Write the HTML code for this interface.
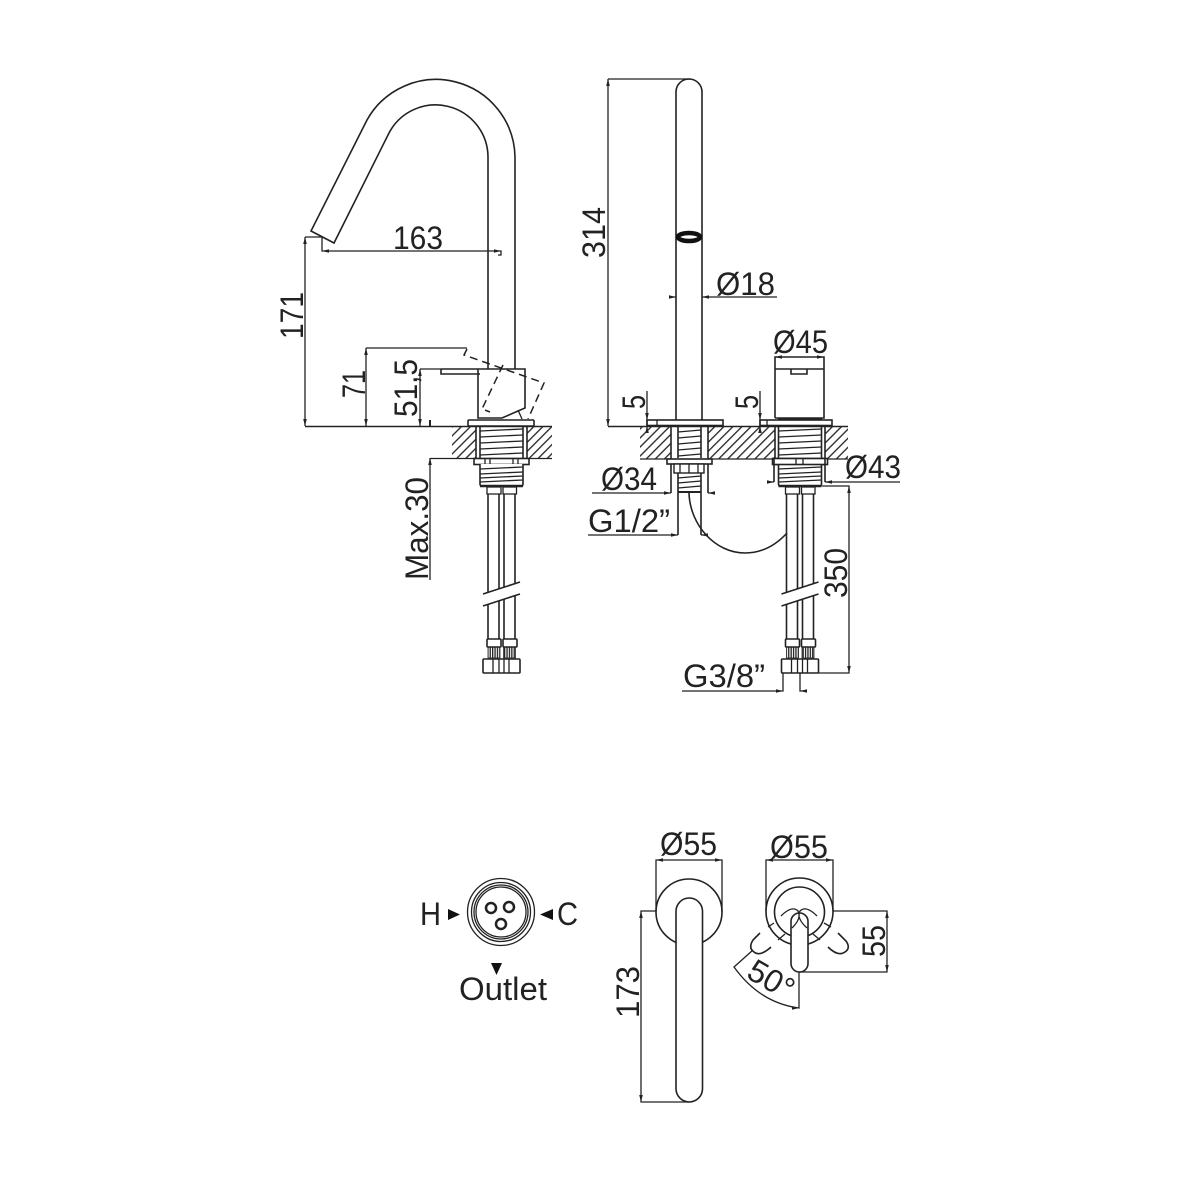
<!DOCTYPE html>
<html><head><meta charset="utf-8"><style>
html,body{margin:0;padding:0;background:#fff;width:1181px;height:1181px;overflow:hidden}
svg{display:block}
text{font-family:"Liberation Sans",sans-serif;font-size:32px;fill:#222}
.l{fill:none;stroke:#222;stroke-width:1.6}
.t{fill:none;stroke:#222;stroke-width:1.3}
.d{fill:none;stroke:#222;stroke-width:1.3}
.dash{fill:none;stroke:#222;stroke-width:1.5;stroke-dasharray:8 5}
</style></head><body>
<svg width="1181" height="1181" viewBox="0 0 1181 1181" xmlns="http://www.w3.org/2000/svg">
<defs>
<pattern id="h" width="6.4" height="6.4" patternUnits="userSpaceOnUse" patternTransform="rotate(45)">
<line x1="0.7" y1="0" x2="0.7" y2="6.4" stroke="#222" stroke-width="1.3"/></pattern>
<pattern id="k" width="2.4" height="10" patternUnits="userSpaceOnUse">
<rect width="1.3" height="10" fill="#222"/></pattern>
<path id="au" d="M0 0L-1.8 7H1.8Z" fill="#222"/>
<path id="ad" d="M0 0L-1.8 -7H1.8Z" fill="#222"/>
<path id="al" d="M0 0L7 -1.8V1.8Z" fill="#222"/>
<path id="ar" d="M0 0L-7 -1.8V1.8Z" fill="#222"/>
<g id="asm">
<path class="l" d="M480 427V458M523 427V458"/>
<path class="t" d="M480 431L523 429M480 437L523 435M480 443L523 441M480 449L523 447M480 455L523 453"/>
<rect x="474" y="458.500" width="55" height="6" fill="#fff" stroke="#222" stroke-width="1.6"/>
<path class="t" d="M485 459V464M490 459V464M513 459V464M518 459V464"/>
<path d="M480 464V484Q480 486 482 486H521Q523 486 523 484V464" fill="#fff" stroke="#222" stroke-width="1.6"/>
<path d="M480 486H523" stroke="#222" stroke-width="2.500"/>
<path class="t" d="M480 469L523 467M480 474L523 472M480 478L523 476M480 482L523 480"/>
<rect x="487" y="487" width="14" height="7" class="t"/><rect x="503" y="487" width="13.500" height="7" class="t"/>
<path class="l" d="M488 494V592.400M499 494V588.800M504 494V587.200M515 494V583.600"/>
<path class="l" d="M483 594L520 582M483 606L520 594"/>
<path class="l" d="M488 604.400V639M499 600.800V639M504 599.200V639M515 595.600V639"/>
<rect x="487" y="639" width="14" height="8" rx="1" class="l"/><rect x="503" y="639" width="14" height="8" rx="1" class="l"/>
<rect x="488" y="647" width="12" height="11" fill="url(#k)" stroke="#222" stroke-width="0.8"/>
<rect x="503.500" y="647" width="12" height="11" fill="url(#k)" stroke="#222" stroke-width="0.8"/>
<rect x="483" y="659" width="37" height="14" rx="1" class="l"/>
<path class="t" d="M493 659V673M499 659V673M504 659V673M509 659V673"/>
</g>
</defs>

<!-- LEFT VIEW spout -->
<path class="l" d="M515 369V157A79 79 0 0 0 367 120L311 231L334 243L389 133A52.500 52.500 0 0 1 488 157V369"/>
<!-- handle -->
<path class="l" d="M441 369H525V408L502 418H478V369"/>
<path class="l" d="M441 369V374H480"/>
<path class="t" d="M518 410L522 419"/>
<path class="dash" d="M467 349L464 355L544 383L528 419"/>
<path class="dash" d="M503 365L482 409L490 412"/>
<rect x="468" y="420" width="66" height="6" rx="1" fill="#fff" stroke="#222" stroke-width="1.6"/>
<!-- ground/hatch -->
<rect x="452" y="426" width="24" height="32" fill="url(#h)"/>
<rect x="527" y="426" width="25" height="32" fill="url(#h)"/>
<path class="l" d="M305 426.500H552M476 426V458M527 426V458"/>
<path class="d" d="M430 458.500H552"/>
<use href="#asm"/>
<!-- dims left -->
<path class="d" d="M305 237H322V251H501V255H498M305 237V426"/>
<use href="#al" x="322" y="251"/><use href="#ar" x="501" y="251"/>
<use href="#au" x="305" y="237"/><use href="#ad" x="305" y="426"/>
<path class="d" d="M366 348H467M366 348V426"/>
<use href="#au" x="366" y="348"/><use href="#ad" x="366" y="426"/>
<path class="d" d="M420 369H441M420 369V426"/>
<use href="#au" x="420" y="369"/><use href="#ad" x="420" y="426"/>
<path d="M430 426V420" stroke="#222" stroke-width="2"/>
<path class="d" d="M430 458V580"/><use href="#au" x="430" y="458"/>
<text x="393" y="249" textLength="50" lengthAdjust="spacingAndGlyphs">163</text>
<text transform="translate(303,339) rotate(-90)" textLength="47" lengthAdjust="spacingAndGlyphs">171</text>
<text transform="translate(365,398) rotate(-90)" textLength="28" lengthAdjust="spacingAndGlyphs">71</text>
<text transform="translate(417,417) rotate(-90)" textLength="58" lengthAdjust="spacingAndGlyphs">51,5</text>
<text transform="translate(428,580) rotate(-90)" textLength="103" lengthAdjust="spacingAndGlyphs">Max.30</text>

<!-- RIGHT VIEW spout -->
<path class="l" d="M676 420V92A13 13 0 0 1 702 92V420"/>
<ellipse cx="689" cy="237" rx="11" ry="4" fill="#fff" stroke="#111" stroke-width="4.500"/>
<path d="M669 297H676M702 297H777" class="d"/>
<use href="#ar" x="676" y="297"/><use href="#al" x="702" y="297"/>
<text x="716" y="295" textLength="59" lengthAdjust="spacingAndGlyphs">Ø18</text>
<path class="d" d="M608 79H690M608 79V426"/>
<use href="#au" x="608" y="79"/><use href="#ad" x="608" y="426"/>
<text transform="translate(605,258) rotate(-90)" textLength="51" lengthAdjust="spacingAndGlyphs">314</text>
<!-- plates -->
<rect x="647" y="420" width="76" height="5.500" class="l"/><path class="t" d="M657 420V425"/>
<rect x="760" y="420" width="72" height="5.500" class="l"/><path class="t" d="M767 420V425"/>
<!-- hatch -->
<rect x="640" y="426" width="31" height="33" fill="url(#h)"/>
<rect x="708" y="426" width="67" height="33" fill="url(#h)"/>
<rect x="825" y="426" width="23" height="33" fill="url(#h)"/>
<path class="l" d="M608 426.500H848M671 426V493M708 426V493M775 426V459M825 426V459"/>
<path class="d" d="M640 459H671M708 459H775M825 459H848"/>
<!-- left thread in right view -->
<path class="l" d="M678 427V458M701 427V458"/>
<path class="t" d="M678 432L701 430M678 438L701 436M678 444L701 442M678 450L701 448M678 456L701 454"/>
<rect x="667" y="459" width="45" height="5" fill="#fff" stroke="#222" stroke-width="1.6"/>
<rect x="674" y="464" width="30" height="9" fill="#fff" stroke="#222" stroke-width="1.4"/>
<path class="t" d="M680 464V473M689 464V473M698 464V473"/>
<path class="l" d="M678 473V535M701 473V535"/>
<path class="t" d="M678 478L701 476M678 483L701 481M678 488L701 486"/>
<path d="M678 492H701" stroke="#222" stroke-width="2"/>
<path class="l" d="M689 493C690 525 715 553 745 553C762 553 776 545 787 533"/>
<use href="#asm" transform="translate(298.500,0)"/>
<rect x="774" y="458.500" width="51" height="6" fill="#fff" stroke="#222" stroke-width="1.6"/>
<path class="t" d="M796 459V464M803 459V464"/>
<path class="l" d="M774 464V482M825 464V482"/>
<!-- knob -->
<path class="l" d="M775 418V357H824V418H775M775 369H824M791 369V374H807V369"/>
<path d="M778 419H822" stroke="#222" stroke-width="2"/>
<use href="#al" x="775" y="357"/><use href="#ar" x="824" y="357"/>
<text x="773" y="353" textLength="55" lengthAdjust="spacingAndGlyphs">Ø45</text>
<!-- 5 dims -->
<path class="d" d="M647 391V431M760 391V431"/>
<use href="#ad" x="647" y="420"/><use href="#au" x="647" y="426"/>
<use href="#ad" x="760" y="420"/><use href="#au" x="760" y="426"/>
<text transform="translate(645,409) rotate(-90)" textLength="14" lengthAdjust="spacingAndGlyphs">5</text>
<text transform="translate(758,409) rotate(-90)" textLength="14" lengthAdjust="spacingAndGlyphs">5</text>
<!-- Ø34 -->
<path class="d" d="M592 493H671M708 493H715"/>
<use href="#ar" x="671" y="493"/><use href="#al" x="708" y="493"/>
<text x="601" y="490" textLength="56" lengthAdjust="spacingAndGlyphs">Ø34</text>
<!-- G1/2 -->
<path class="d" d="M588 535H678M701 535H707"/>
<use href="#ar" x="678" y="535"/><use href="#al" x="701" y="535"/>
<text x="588" y="532" textLength="82" lengthAdjust="spacingAndGlyphs">G1/2”</text>
<!-- Ø43 -->
<path class="d" d="M768 482H774M825 482H900"/>
<use href="#ar" x="774" y="482"/><use href="#al" x="825" y="482"/>
<text x="845" y="478" textLength="56" lengthAdjust="spacingAndGlyphs">Ø43</text>
<!-- 350 -->
<path class="d" d="M822 486H849V673H818"/>
<use href="#au" x="849" y="486"/><use href="#ad" x="849" y="673"/>
<text transform="translate(847,598) rotate(-90)" textLength="50" lengthAdjust="spacingAndGlyphs">350</text>
<!-- G3/8 -->
<path class="d" d="M682 691H783V673M800 673V691H807"/>
<use href="#ar" x="783" y="691"/><use href="#al" x="800" y="691"/>
<text x="683" y="687" textLength="82" lengthAdjust="spacingAndGlyphs">G3/8”</text>

<!-- BOTTOM cartridge -->
<g class="t">
<circle cx="501" cy="912" r="33.500"/><circle cx="501" cy="912" r="29.500"/><circle cx="501" cy="912" r="27"/><circle cx="501" cy="912" r="25"/>
</g>
<circle cx="491" cy="908" r="5" fill="none" stroke="#222" stroke-width="2.500"/>
<circle cx="509" cy="907" r="5" fill="none" stroke="#222" stroke-width="2.500"/>
<circle cx="501" cy="924" r="5" fill="none" stroke="#222" stroke-width="2.500"/>
<path d="M448 909L460 914.500L448 920Z M553 909L540 914.500L553 920Z M491 963H502L496.500 975Z" fill="#111"/>
<text x="420" y="925" textLength="21" lengthAdjust="spacingAndGlyphs">H</text>
<text x="557" y="925" textLength="21" lengthAdjust="spacingAndGlyphs">C</text>
<text x="459" y="1000" textLength="88" lengthAdjust="spacingAndGlyphs">Outlet</text>

<!-- BOTTOM front -->
<circle cx="689" cy="912" r="33" class="l"/>
<rect x="676" y="898" width="26.500" height="204" rx="13.250" fill="#fff" stroke="#222" stroke-width="1.600"/>
<path class="d" d="M656 912V860H722V912M656 911H641V1102H690"/>
<use href="#al" x="656" y="860"/><use href="#ar" x="722" y="860"/>
<use href="#au" x="641" y="911"/><use href="#ad" x="641" y="1102"/>
<text x="660" y="855" textLength="57" lengthAdjust="spacingAndGlyphs">Ø55</text>
<text transform="translate(639,1018) rotate(-90)" textLength="52" lengthAdjust="spacingAndGlyphs">173</text>

<!-- BOTTOM lever -->
<circle cx="799.500" cy="911.500" r="33.500" class="l"/>
<circle cx="799.500" cy="912" r="25" class="l"/>
<path class="t" d="M768 927L774 923M778 940L785 934M813 934L820 940M824 923L831 927"/>
<rect x="791" y="913" width="17" height="59" rx="8.500" fill="#fff" stroke="#222" stroke-width="1.600"/>
<path class="t" d="M781 916Q792 905 798 911Q802 918 792 928M817 916Q806 905 800 911Q796 918 807 928"/>
<path class="l" d="M760 933L753 940Q748 948 754 952Q760 957 771 947"/>
<path class="l" d="M838 933L846 941Q851 948 845 952Q838 957 828 947"/>
<path class="d" d="M766 911V860H833V911M833 911H887V972H800M753 950L734 967Q760 1003 799 1008V972"/>
<use href="#al" x="766" y="860"/><use href="#ar" x="833" y="860"/>
<use href="#au" x="887" y="911"/><use href="#ad" x="887" y="972"/>
<use href="#ar" x="799" y="1008"/>
<text x="770" y="858" textLength="58" lengthAdjust="spacingAndGlyphs">Ø55</text>
<text transform="translate(885,957) rotate(-90)" textLength="32" lengthAdjust="spacingAndGlyphs">55</text>
<text transform="translate(745,977) rotate(30)" textLength="48" lengthAdjust="spacingAndGlyphs">50°</text>
</svg>
</body></html>
